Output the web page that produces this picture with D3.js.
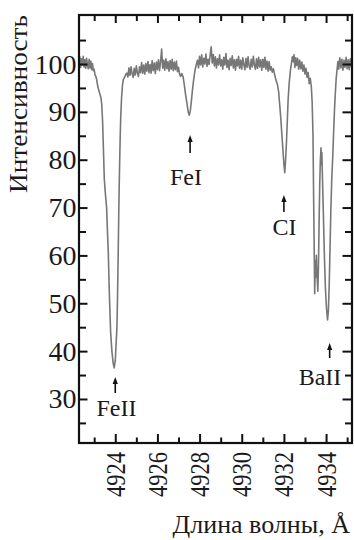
<!DOCTYPE html>
<html><head><meta charset="utf-8">
<script src="https://cdn.jsdelivr.net/npm/d3@7"></script>
<style>html,body{margin:0;padding:0;background:#fff;}svg{display:block;}</style>
</head><body>
<script>
const wavelength = [
4922.28,4922.32,4922.36,4922.40,4922.44,4922.48,4922.52,4922.56,4922.60,4922.64,4922.68,4922.72,4922.76,4922.80,4922.84,4922.88,4922.92,4922.96,4923.00,4923.04,4923.08,
4923.12,4923.16,4923.20,4923.24,4923.28,4923.32,4923.36,4923.40,4923.44,4923.48,4923.53,4923.59,4923.63,4923.67,4923.72,4923.78,4923.84,4923.90,4923.95,4924.00,4924.04,4924.08,4924.11,4924.14,4924.17,4924.20,4924.23,4924.26,4924.30,4924.34,4924.38,4924.44,4924.50,4924.55,
4924.60,4924.65,4924.70,4924.75,4924.80,4924.85,4924.90,4924.95,4925.00,4925.05,4925.10,4925.15,4925.20,4925.25,4925.30,4925.35,4925.40,4925.45,4925.50,4925.55,4925.60,4925.65,4925.70,4925.75,4925.80,4925.85,4925.90,4925.95,4926.00,4926.05,4926.10,4926.15,4926.20,4926.25,4926.30,4926.35,4926.40,4926.45,4926.50,4926.55,4926.60,4926.65,4926.70,4926.75,4926.80,4926.85,4926.90,4926.95,4927.00,4927.05,4927.10,
4927.15,4927.22,4927.28,4927.34,4927.40,4927.46,4927.51,4927.56,4927.61,4927.66,4927.72,4927.78,4927.84,
4927.90,4927.95,4928.00,4928.05,4928.10,4928.15,4928.20,4928.25,4928.30,4928.35,4928.40,4928.45,4928.50,4928.55,4928.60,4928.65,4928.70,4928.75,4928.80,4928.85,4928.90,4928.95,4929.00,4929.05,4929.10,4929.15,4929.20,4929.25,4929.30,4929.35,4929.40,4929.45,4929.50,4929.55,4929.60,4929.65,4929.70,4929.75,4929.80,4929.85,4929.90,4929.95,4930.00,4930.05,4930.10,4930.15,4930.20,4930.25,4930.30,4930.35,4930.40,4930.45,4930.50,4930.55,4930.60,4930.65,4930.70,4930.75,4930.80,4930.85,4930.90,4930.95,4931.00,4931.05,4931.10,4931.15,4931.20,4931.25,4931.30,4931.35,4931.40,4931.45,
4931.50,4931.55,4931.60,4931.65,4931.70,4931.75,4931.80,4931.85,4931.90,4931.95,4932.00,4932.04,4932.08,4932.12,4932.16,4932.20,4932.25,4932.31,4932.36,4932.40,4932.44,
4932.48,4932.52,4932.56,4932.60,4932.65,4932.70,4932.75,4932.80,4932.85,4932.90,4932.95,4933.00,4933.05,4933.10,4933.15,4933.20,4933.25,4933.30,4933.34,4933.38,4933.41,4933.44,4933.46,4933.48,4933.50,4933.52,4933.54,4933.56,4933.58,4933.61,4933.64,4933.67,4933.70,4933.73,4933.76,4933.78,4933.80,4933.83,4933.87,4933.92,4933.97,4934.02,4934.07,4934.11,4934.15,4934.19,4934.23,4934.27,4934.32,4934.36,4934.40,4934.44,4934.48,4934.52,4934.56,4934.60,4934.65,4934.70,4934.75,4934.80,4934.85,4934.90,4934.95,4935.00,4935.05,4935.10,4935.15,4935.20,4935.23
];
const intensity = [
100.4,101.5,99.3,101.1,99.8,101.6,99.4,100.9,99.1,101.2,99.9,99.0,101.0,99.2,100.6,98.8,100.1,98.6,98.9,97.7,97.4,
96.7,95.6,94.8,94.2,93.6,93.0,91.5,88.0,82.0,76.0,73.0,70.0,65.0,60.5,52.0,44.0,40.0,37.5,36.5,38.0,41.5,45.0,52.0,60.5,70.0,77.5,84.0,89.0,93.0,95.5,96.7,97.2,97.8,98.1,
97.3,99.2,97.6,99.4,98.0,97.2,99.1,97.7,99.6,98.1,97.4,99.4,98.2,100.3,98.1,99.8,97.9,100.1,98.5,100.5,98.2,99.9,98.1,100.7,98.6,100.2,98.0,100.4,98.8,100.9,98.6,100.5,103.1,99.1,100.8,98.7,101.1,99.0,100.5,98.5,100.7,98.9,101.0,98.6,100.4,98.8,100.6,98.4,99.3,97.9,97.4,
98.0,97.3,95.5,93.5,91.8,90.0,89.3,90.2,92.2,94.5,96.8,98.6,99.8,
100.8,99.2,101.6,99.8,101.9,99.4,101.2,100.0,102.1,99.5,101.0,99.9,101.8,103.6,100.2,102.0,99.6,101.5,99.2,101.1,99.8,101.9,99.6,100.9,98.9,101.4,99.8,102.2,99.3,100.8,98.8,101.2,99.7,101.7,99.2,100.9,98.7,101.0,99.6,101.6,99.1,100.8,98.9,101.3,99.9,98.8,101.2,99.3,101.5,99.6,98.9,101.0,99.4,101.6,99.8,98.9,101.1,99.1,101.4,99.4,100.9,98.7,101.0,99.3,101.4,98.9,100.6,98.5,100.5,98.7,99.4,98.3,
99.0,98.0,97.0,96.3,95.6,94.2,91.5,88.8,85.5,82.3,79.0,77.3,80.0,83.5,88.0,92.5,96.0,98.7,100.2,101.5,100.5,
101.9,99.3,101.3,99.7,101.2,98.9,100.8,99.0,100.4,98.5,99.8,97.9,99.1,97.2,98.2,95.9,97.0,95.3,92.0,85.0,72.0,60.0,52.0,56.5,59.0,55.5,60.0,57.0,55.0,52.5,58.0,67.0,75.0,80.0,82.5,79.0,81.5,76.0,69.0,60.0,53.0,49.0,46.5,48.5,54.0,62.0,70.0,76.0,81.0,86.0,90.5,94.0,97.0,98.8,100.5,98.9,101.3,99.2,101.0,98.7,100.8,99.3,101.4,99.0,100.9,98.8,101.1,99.4,100.6
];
const xMajorTicks = [4924,4926,4928,4930,4932,4934];
const xMinorTicks = [4923,4925,4927,4929,4931,4933,4935];
const yMajorTicks = [30,40,50,60,70,80,90,100];
const yMinorTicks = [25,35,45,55,65,75,85,95,105];
const lineLabels = [
  {name:"FeII", wl:4924.0, lx:116.5, ly:416, a1:377, a2:393},
  {name:"FeI",  wl:4927.55, lx:186, ly:185, a1:135, a2:153},
  {name:"CI",   wl:4932.0, lx:284.5, ly:235, a1:195, a2:212},
  {name:"BaII", wl:4934.17, lx:320, ly:385, a1:343, a2:358}
];
const xTitle = "Длина волны, Å";
const yTitle = "Интенсивность";

const W=354,H=540;
const L=79,R=352,T=15,B=443;
const font = "'Liberation Serif','Times New Roman',serif";
const svg = d3.select("body").append("svg").attr("width",W).attr("height",H);
const x = d3.scaleLinear().domain([4922.28,4935.23]).range([L,R]);
const y = d3.scaleLinear().domain([20.8,110.24]).range([B,T]);

const data = wavelength.map((w,i)=>[w,intensity[i]]);
svg.append("path").datum(data)
  .attr("fill","none").attr("stroke","#777").attr("stroke-width",1.6)
  .attr("stroke-linejoin","round")
  .attr("d", d3.line().x(d=>x(d[0])).y(d=>y(d[1])));

function axis(gen, tx, ty){
  const g = svg.append("g").attr("transform",`translate(${tx},${ty})`).call(gen);
  g.selectAll(".domain").remove();
  g.selectAll("line").attr("stroke","#111").attr("stroke-width",2);
  g.selectAll("text").remove();
  return g;
}
// ticks inward on all four sides
axis(d3.axisBottom(x).tickValues(xMajorTicks).tickSize(-9), 0, B);
axis(d3.axisBottom(x).tickValues(xMinorTicks).tickSize(-5.5), 0, B);
axis(d3.axisTop(x).tickValues(xMajorTicks).tickSize(-8), 0, T);
axis(d3.axisTop(x).tickValues(xMinorTicks).tickSize(-6), 0, T);
axis(d3.axisLeft(y).tickValues(yMajorTicks).tickSize(-8.5), L, 0);
axis(d3.axisLeft(y).tickValues(yMinorTicks).tickSize(-7), L, 0);
axis(d3.axisRight(y).tickValues(yMajorTicks).tickSize(-9.5), R, 0);
axis(d3.axisRight(y).tickValues(yMinorTicks).tickSize(-7), R, 0);

svg.append("rect").attr("x",L).attr("y",T).attr("width",R-L).attr("height",B-T)
  .attr("fill","none").attr("stroke","#111").attr("stroke-width",2.2);

// y tick labels
svg.append("g").selectAll("text").data(yMajorTicks).join("text")
  .attr("x",76.5).attr("y",d=>y(d)+9.5)
  .attr("text-anchor","end").attr("font-family",font).attr("font-size",28)
  .attr("fill","#1a1a1a").text(d=>d);
// x tick labels rotated
svg.append("g").selectAll("text").data(xMajorTicks).join("text")
  .attr("transform",d=>`translate(${x(d)+9.5},452) rotate(-90)`)
  .attr("text-anchor","end").attr("font-family",font).attr("font-size",28)
  .attr("textLength",45).attr("lengthAdjust","spacingAndGlyphs")
  .attr("fill","#1a1a1a").text(d=>d);

// titles
svg.append("text").attr("transform","translate(27,104) rotate(-90)")
  .attr("text-anchor","middle").attr("font-family",font).attr("font-size",25)
  .attr("textLength",178).attr("lengthAdjust","spacingAndGlyphs")
  .attr("fill","#1a1a1a").text(yTitle);
svg.append("text").attr("x",350).attr("y",533)
  .attr("text-anchor","end").attr("font-family",font).attr("font-size",26)
  .attr("fill","#1a1a1a").text(xTitle);

// line annotations
const ann = svg.append("g");
lineLabels.forEach(d=>{
  const ax = x(d.wl);
  ann.append("line").attr("x1",ax).attr("x2",ax).attr("y1",d.a1+5).attr("y2",d.a2)
    .attr("stroke","#111").attr("stroke-width",1.6);
  ann.append("path").attr("d",`M${ax},${d.a1} L${ax-2.6},${d.a1+7} L${ax+2.6},${d.a1+7} Z`).attr("fill","#111");
  ann.append("text").attr("x",d.lx).attr("y",d.ly).attr("text-anchor","middle")
    .attr("font-family",font).attr("font-size",24).attr("fill","#1a1a1a").text(d.name);
});
</script>
</body></html>
